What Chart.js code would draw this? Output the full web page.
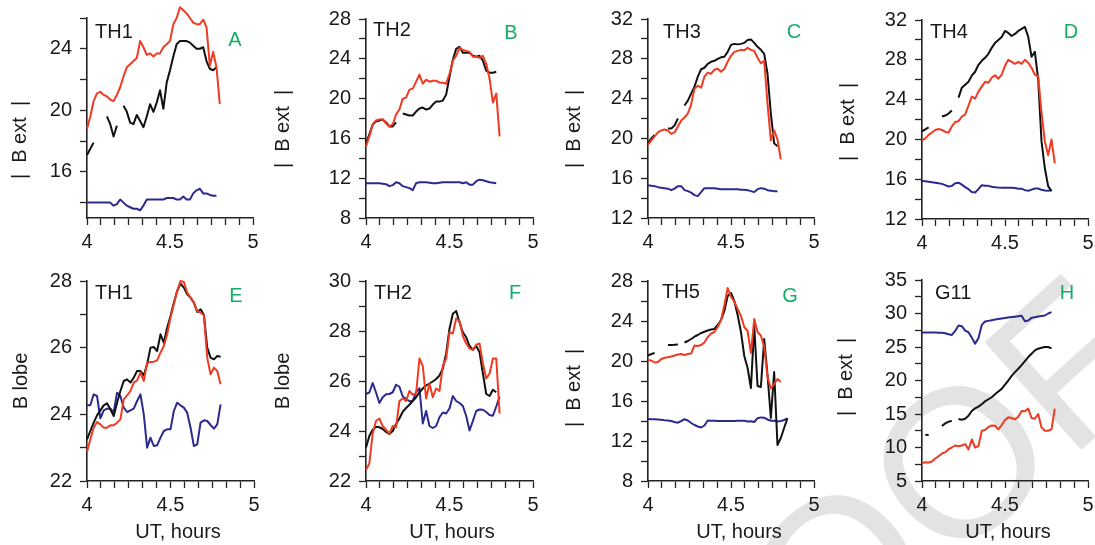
<!DOCTYPE html>
<html>
<head>
<meta charset="utf-8">
<script src="https://cdn.jsdelivr.net/npm/chart.js@4.4.1/dist/chart.umd.min.js"></script>
<style>
  html, body { margin: 0; padding: 0; background: #fff; }
  #wrap { position: relative; width: 1095px; height: 545px; overflow: hidden; }
  #wrap canvas { position: absolute; left: 0; top: 0; }
</style>
</head>
<body>
<div id="wrap"></div>
<script>
// UT hours shared by every panel
const hours = [4.00, 4.02, 4.04, 4.06, 4.08, 4.10, 4.12, 4.14, 4.16, 4.18,
  4.20, 4.22, 4.24, 4.26, 4.28, 4.30, 4.32, 4.34, 4.36, 4.38,
  4.40, 4.42, 4.44, 4.46, 4.48, 4.50, 4.52, 4.54, 4.56, 4.58,
  4.60, 4.62, 4.64, 4.66, 4.68, 4.70, 4.72, 4.74, 4.76, 4.78,
  4.80, 4.82, 4.84];

const xTickLabels = [4, 4.5, 5];
const xMinorPerHour = 12;

// A  TH1 |B ext|
const redA = [18.8, 19.6, 20.6, 21.1, 21.2, 21.0, 20.9, 20.7, 20.6, 21.0, 21.5, 22.2, 22.8, 23.0, 23.2, 23.4, 24.5, 24.1, 23.6, 23.7, 23.5, 23.7, 23.7, 24.1, 24.3, 24.5, 25.6, 26.0, 26.7, 26.5, 26.3, 26.0, 25.7, 25.6, 25.6, 25.9, 25.4, 22.9, 23.8, 22.8, 20.4];
const blackA = [17.1, 17.5, 17.9, null, null, null, 19.6, 19.1, 18.3, 19.0, null, 20.3, 19.9, 19.2, 19.1, 19.7, 19.3, 18.9, 19.6, 20.4, 19.9, 20.5, 21.3, 20.1, 21.8, 22.6, 23.5, 24.3, 24.5, 24.5, 24.5, 24.4, 24.2, 24.0, 24.0, 24.1, 23.2, 22.7, 22.6, 22.8];
const blueA = [14.0, 14.0, 14.0, 14.0, 14.0, 14.0, 14.0, 14.0, 13.8, 13.9, 14.2, 14.0, 13.8, 13.7, 13.6, 13.6, 13.5, 13.8, 14.2, 14.2, 14.2, 14.2, 14.2, 14.2, 14.3, 14.3, 14.3, 14.2, 14.2, 14.4, 14.2, 14.2, 14.6, 14.8, 14.9, 14.6, 14.6, 14.5, 14.45, 14.45];

// B  TH2 |B ext|
const redB = [15.2, 16.2, 17.4, 17.8, 17.9, 17.9, 17.5, 17.2, 17.4, 18.4, 18.9, 20.0, 20.1, 20.9, 21.0, 21.7, 22.4, 21.5, 21.9, 21.7, 21.8, 21.8, 21.6, 21.6, 21.5, 22.5, 23.8, 24.3, 25.1, 24.9, 24.8, 24.7, 24.2, 24.2, 24.1, 24.3, 23.5, 22.0, 19.6, 20.5, 16.2];
const blackB = [15.5, 16.4, 17.4, 17.7, 17.8, 17.9, 17.6, 17.2, 17.2, 17.6, null, 18.5, 18.4, 18.3, 18.3, 18.7, 19.0, 19.1, 18.9, 19.0, 19.4, 19.7, 19.7, 19.8, 20.4, 22.2, 23.9, 25.0, 25.2, 24.6, 24.6, 24.6, 24.3, 24.2, 24.3, 23.8, 22.8, 22.6, 22.6, 22.7];
const blueB = [11.5, 11.5, 11.5, 11.5, 11.5, 11.45, 11.4, 11.2, 11.3, 11.6, 11.5, 11.2, 11.1, 11.0, 10.8, 11.5, 11.6, 11.6, 11.6, 11.55, 11.5, 11.5, 11.55, 11.6, 11.6, 11.6, 11.6, 11.6, 11.6, 11.5, 11.6, 11.35, 11.35, 11.7, 11.85, 11.8, 11.7, 11.6, 11.55, 11.5];

// C  TH3 |B ext|
const redC = [19.35, 19.8, 20.2, 20.6, 20.8, 20.9, 20.8, 20.45, 20.6, 21.2, 21.8, 22.1, 22.5, 23.4, 25.0, 25.3, 25.1, 26.2, 26.6, 26.5, 26.9, 27.0, 26.7, 27.0, 27.7, 28.3, 28.7, 28.8, 28.9, 28.85, 29.1, 28.9, 28.8, 28.1, 27.55, 27.8, 23.5, 19.8, 20.8, 19.9, 17.9];
const blackC = [19.5, 20.0, 20.35, null, null, null, 21.0, 21.0, 21.3, 22.0, null, 23.3, 23.8, 24.5, 25.2, 26.2, 26.95, 27.1, 27.5, 27.7, 27.8, 28.0, 28.15, 28.2, 28.7, 29.4, 29.5, 29.45, 29.5, 29.6, 29.9, 29.95, 29.6, 29.2, 28.9, 28.5, 26.5, 22.5, 19.5, 19.2];
const blueC = [15.3, 15.25, 15.2, 15.1, 15.05, 15.0, 14.95, 14.8, 14.95, 15.2, 15.2, 14.8, 14.7, 14.55, 14.3, 14.2, 14.6, 15.0, 15.0, 15.0, 15.0, 14.95, 14.9, 14.9, 14.9, 14.9, 14.9, 14.9, 14.85, 14.85, 14.8, 14.7, 14.6, 14.9, 15.0, 14.95, 14.8, 14.75, 14.7, 14.7];

// D  TH4 |B ext|
const redD = [19.9, 20.1, 20.45, 20.7, 20.95, 21.05, 20.95, 20.75, 20.7, 21.3, 21.75, 21.83, 22.3, 22.5, 23.4, 24.3, 24.1, 24.8, 25.3, 25.8, 25.7, 26.2, 26.45, 26.1, 26.5, 27.4, 28.0, 27.8, 27.6, 27.8, 27.6, 28.0, 27.7, 27.2, 26.5, 26.35, 22.7, 19.8, 18.4, 20.0, 17.6];
const blackD = [20.8, 21.0, 21.2, null, null, null, 22.3, 22.4, 22.6, 22.9, null, 24.2, 25.2, 25.5, 25.8, 26.4, 26.8, 27.5, 27.9, 28.2, 28.6, 29.2, 29.7, 30.0, 30.3, 30.9, 30.7, 30.4, 30.6, 30.9, 31.1, 31.3, 30.3, 28.3, 28.8, 26.0, 19.8, 17.1, 15.3, 14.8];
const blueD = [15.83, 15.8, 15.75, 15.7, 15.65, 15.6, 15.53, 15.4, 15.27, 15.33, 15.6, 15.65, 15.45, 15.2, 15.0, 14.72, 14.67, 15.0, 15.4, 15.35, 15.33, 15.25, 15.2, 15.17, 15.15, 15.13, 15.13, 15.15, 15.12, 15.05, 15.05, 14.9, 14.83, 14.95, 15.07, 15.07, 14.93, 14.87, 14.85, 14.9];

// E  TH1 B lobe
const redE = [22.87, 23.25, 23.6, 23.77, 23.7, 23.6, 23.6, 23.67, 23.67, 23.75, 23.85, 24.45, 24.57, 24.7, 24.95, 25.02, 25.25, 25.0, 25.55, 25.57, 25.58, 25.62, 25.85, 26.05, 26.4, 26.9, 27.3, 27.7, 28.0, 27.97, 27.65, 27.5, 27.35, 27.1, 27.05, 26.97, 25.7, 25.2, 25.4, 25.3, 24.9];
const blackE = [23.25, 23.5, 23.75, 23.97, 24.12, 24.27, 24.33, 24.15, 23.95, 24.35, 24.7, 25.0, 25.05, 24.95, 25.1, 25.3, 25.3, 25.17, 25.5, 26.0, 26.02, 25.9, 26.4, 26.15, 26.6, 26.95, 27.35, 27.7, 27.92, 27.8, 27.6, 27.5, 27.35, 27.07, 27.15, 26.99, 26.0, 25.7, 25.65, 25.75, 25.73];
const blueE = [24.27, 24.27, 24.6, 24.55, 23.88, 24.12, 24.17, 24.17, 24.07, 24.65, 24.55, 24.2, 24.07, 24.12, 24.17, 24.4, 24.6, 24.0, 23.0, 23.3, 23.05, 23.07, 23.3, 23.5, 23.55, 23.55, 24.1, 24.35, 24.27, 24.2, 24.05, 23.6, 23.05, 23.1, 23.75, 23.82, 23.8, 23.68, 23.57, 23.7, 24.3];

// F  TH2 B lobe
const redF = [22.44, 22.7, 23.9, 24.4, 24.5, 24.2, 24.05, 23.9, 24.2, 24.15, 25.2, 25.3, 25.2, 25.6, 25.45, 25.5, 26.9, 26.6, 25.3, 25.9, 25.35, 25.7, 25.6, 26.6, 26.9, 27.95, 27.9, 28.5, 28.4, 27.8, 27.5, 27.3, 27.25, 27.45, 27.5, 26.7, 26.1, 26.3, 26.9, 26.9, 24.7];
const blackF = [23.34, 23.8, 24.05, 24.17, 24.15, 24.08, 23.96, 23.88, 24.0, 24.28, 24.5, 24.77, 24.92, 25.05, 25.2, 25.35, 25.55, 25.7, 25.82, 25.9, 25.98, 26.08, 26.22, 26.5, 27.1, 28.09, 28.69, 28.8, 28.35, 27.95, 27.75, 27.4, 27.25, 27.4, 27.15, 26.3, 25.48, 25.4, 25.65, 25.55];
const blueF = [25.48, 25.54, 25.92, 25.54, 25.12, 25.35, 25.47, 25.48, 25.55, 25.85, 25.77, 25.38, 25.29, 25.19, 25.21, 25.55, 25.71, 24.3, 24.8, 24.2, 24.12, 24.2, 24.55, 24.74, 24.7, 24.9, 25.4, 25.2, 25.12, 25.0, 24.6, 24.02, 24.4, 24.8, 24.86, 24.85, 24.76, 24.64, 24.61, 24.98, 25.37];

// G  TH5 |B ext|
const redG = [20.1, 20.05, 19.85, 19.9, 20.2, 20.33, 20.38, 20.45, 20.55, 20.65, 20.7, 20.6, 20.7, 20.75, 21.55, 21.5, 21.6, 21.85, 22.4, 22.75, 22.9, 23.4, 24.1, 25.6, 27.3, 26.4, 25.95, 25.2, 24.5, 23.4, 23.0, 20.8, 24.2, 22.9, 22.55, 21.4, 18.4, 17.27, 17.7, 18.2, 17.9];
const blackG = [20.55, 20.7, 20.8, null, null, null, 21.6, 21.6, 21.62, 21.65, null, 21.85, 22.0, 22.2, 22.43, 22.6, 22.8, 22.93, 23.05, 23.15, 23.2, 23.6, 24.1, 25.0, 26.5, 26.8, 26.0, 24.6, 22.9, 20.5, 19.3, 17.3, 23.5, 17.5, 17.4, 22.2, 18.6, 14.3, 18.9, 11.6, 12.3, 13.3, 14.27];
const blueG = [14.2, 14.18, 14.17, 14.15, 14.12, 14.08, 14.05, 14.0, 13.9, 13.83, 14.0, 14.18, 14.05, 13.8, 13.6, 13.45, 13.35, 13.55, 14.05, 14.03, 14.02, 14.0, 14.0, 14.0, 14.0, 14.0, 14.0, 14.02, 14.03, 14.03, 13.95, 13.98, 13.9, 14.28, 14.36, 14.33, 14.15, 14.03, 14.03, 13.95, 14.0, 14.1, 14.27];

// H  G11 |B ext|
const redH = [7.7, 7.8, 7.75, 7.9, 8.35, 8.7, 9.1, 9.3, 9.75, 10.0, 10.3, 10.2, 10.3, 10.5, 9.7, 11.2, 10.0, 10.2, 12.5, 12.6, 13.05, 13.3, 13.25, 12.7, 13.35, 14.1, 14.5, 14.4, 14.2, 14.6, 15.45, 15.4, 15.8, 14.4, 14.3, 15.0, 13.0, 12.5, 12.5, 12.7, 15.8];
const blackH = [null, 11.9, 11.85, null, null, null, 13.2, 13.6, 13.85, 13.97, null, 14.25, 14.15, 14.3, 14.75, 15.45, 15.85, 16.1, 16.45, 16.9, 17.2, 17.5, 17.95, 18.35, 18.75, 19.4, 20.0, 20.7, 21.25, 21.75, 22.3, 22.9, 23.5, 24.0, 24.5, 24.75, 24.9, 25.0, 25.0, 24.8];
const blueH = [27.15, 27.15, 27.15, 27.15, 27.15, 27.13, 27.12, 27.05, 26.9, 26.8, 27.4, 28.2, 28.1, 27.45, 27.2, 26.4, 25.5, 26.3, 28.3, 28.8, 28.9, 29.0, 29.1, 29.18, 29.25, 29.33, 29.4, 29.47, 29.53, 29.6, 29.65, 28.85, 28.95, 29.35, 29.45, 29.55, 29.62, 29.7, 30.0, 30.2];

// y tick labels per panel
const yTicksA = [16, 20, 24];
const yTicksB = [8, 12, 16, 20, 24, 28];
const yTicksC = [12, 16, 20, 24, 28, 32];
const yTicksD = [12, 16, 20, 24, 28, 32];
const yTicksE = [22, 24, 26, 28];
const yTicksF = [22, 24, 26, 28, 30];
const yTicksG = [8, 12, 16, 20, 24, 28];
const yTicksH = [5, 10, 15, 20, 25, 30, 35];

const RED = '#ef3b22';
const BLACK = '#111111';
const BLUE = '#2b2a8e';
const GREEN = '#17ad68';
const AXIS = '#222222';
const FONT = '"Liberation Sans", Arial, Helvetica, sans-serif';

const panels = [
  { name: 'TH1', letter: 'A', title: '|  B ext  |', red: redA, black: blackA, blue: blueA, yMin: 13, yMax: 26, minor: 2, labels: yTicksA,
    box: [87, 253, 18, 218], nameAt: [95, 32], letterAt: [235, 40], titleAt: [20, 140] },
  { name: 'TH2', letter: 'B', title: '|  B ext  |', red: redB, black: blackB, blue: blueB, yMin: 8, yMax: 28, minor: 2, labels: yTicksB,
    box: [366, 533, 19, 218], nameAt: [373, 30], letterAt: [511, 33], titleAt: [283, 129] },
  { name: 'TH3', letter: 'C', title: '|  B ext  |', red: redC, black: blackC, blue: blueC, yMin: 12, yMax: 32, minor: 2, labels: yTicksC,
    box: [648, 814, 19, 218], nameAt: [663, 32], letterAt: [794, 32], titleAt: [574, 129] },
  { name: 'TH4', letter: 'D', title: '|  B ext  |', red: redD, black: blackD, blue: blueD, yMin: 12, yMax: 32, minor: 2, labels: yTicksD,
    box: [922, 1088, 20, 219], nameAt: [930, 32], letterAt: [1071, 32], titleAt: [848, 122] },
  { name: 'TH1', letter: 'E', title: 'B lobe', red: redE, black: blackE, blue: blueE, yMin: 22, yMax: 28, minor: 1, labels: yTicksE,
    box: [87, 254, 281, 481], nameAt: [95, 293], letterAt: [236, 296], titleAt: [21, 381], xTitleAt: [178, 532] },
  { name: 'TH2', letter: 'F', title: 'B lobe', red: redF, black: blackF, blue: blueF, yMin: 22, yMax: 30, minor: 1, labels: yTicksF,
    box: [366, 533, 281, 481], nameAt: [374, 293], letterAt: [515, 293], titleAt: [283, 381], xTitleAt: [452, 532] },
  { name: 'TH5', letter: 'G', title: '|  B ext  |', red: redG, black: blackG, blue: blueG, yMin: 8, yMax: 28, minor: 2, labels: yTicksG,
    box: [648, 814, 281, 481], nameAt: [662, 292], letterAt: [790, 296], titleAt: [574, 388], xTitleAt: [739, 532] },
  { name: 'G11', letter: 'H', title: '|  B ext  |', red: redH, black: blackH, blue: blueH, yMin: 5, yMax: 35, minor: 2.5, labels: yTicksH,
    box: [922, 1088, 280, 481], nameAt: [935, 293], letterAt: [1067, 293], titleAt: [846, 377], xTitleAt: [1008, 532] }
];

const pts = arr => arr.map((v, i) => ({ x: hours[i], y: v }));

const xTicks = [];
for (let i = 0; i <= xMinorPerHour; i++) xTicks.push(4 + i / xMinorPerHour);

// light grey "PROOF" stamp behind the figure
const proofStamp = {
  id: 'proofStamp',
  beforeDraw(chart) {
    const ctx = chart.ctx;
    ctx.save();
    ctx.translate(609, 875);
    ctx.rotate(-42 * Math.PI / 180);
    ctx.font = '210px ' + FONT;
    ctx.fillStyle = '#e3e3e3';
    ctx.textBaseline = 'alphabetic';
    ctx.fillText('PROOF', 0, 0);
    ctx.restore();
  }
};

// panel name, letter and axis titles
const panelText = {
  id: 'panelText',
  afterDraw(chart, args, p) {
    const ctx = chart.ctx;
    ctx.save();
    ctx.textBaseline = 'middle';
    ctx.font = '20px ' + FONT;
    ctx.fillStyle = '#1a1a1a';
    ctx.textAlign = 'left';
    ctx.fillText(p.name, p.nameAt[0], p.nameAt[1]);
    ctx.fillStyle = GREEN;
    ctx.textAlign = 'center';
    ctx.fillText(p.letter, p.letterAt[0], p.letterAt[1]);
    ctx.fillStyle = '#1a1a1a';
    if (p.xTitleAt) ctx.fillText('UT, hours', p.xTitleAt[0], p.xTitleAt[1]);
    ctx.translate(p.titleAt[0], p.titleAt[1]);
    ctx.rotate(-Math.PI / 2);
    ctx.fillText(p.title, 0, 0);
    ctx.restore();
  }
};

const wrap = document.getElementById('wrap');

panels.forEach((p, idx) => {
  const canvas = document.createElement('canvas');
  canvas.width = 1095;
  canvas.height = 545;
  wrap.appendChild(canvas);

  const [L, R, T, B] = p.box;
  const yAxisW = 60, xAxisH = 40;
  const yTicks = [];
  for (let v = Math.ceil(p.yMin / p.minor) * p.minor; v <= p.yMax + 1e-9; v += p.minor) yTicks.push(v);

  new Chart(canvas, {
    type: 'line',
    data: {
      datasets: [
        { data: pts(p.red), borderColor: RED, clip: false },
        { data: pts(p.black), borderColor: BLACK, clip: false },
        { data: pts(p.blue), borderColor: BLUE, clip: false }
      ]
    },
    options: {
      responsive: false,
      animation: false,
      events: [],
      spanGaps: false,
      layout: { padding: { left: L - yAxisW, right: 1095 - R, top: T, bottom: 545 - B - xAxisH } },
      elements: {
        point: { radius: 0 },
        line: { borderWidth: 2, tension: 0, borderJoinStyle: 'round', fill: false }
      },
      plugins: {
        legend: { display: false },
        tooltip: { enabled: false },
        panelText: p
      },
      scales: {
        x: {
          type: 'linear', min: 4, max: 5,
          afterBuildTicks: s => { s.ticks = xTicks.map(v => ({ value: v })); },
          afterFit: s => { s.height = xAxisH; s.paddingLeft = 0; s.paddingRight = 0; },
          ticks: {
            autoSkip: false, maxRotation: 0, padding: 5, color: '#1a1a1a',
            font: { size: 20, family: FONT },
            callback: v => xTickLabels.includes(v) ? String(v) : ''
          },
          grid: { drawOnChartArea: false, drawTicks: true, tickLength: 7, tickColor: AXIS, tickWidth: 1.3 },
          border: { color: AXIS, width: 1.6 }
        },
        y: {
          type: 'linear', min: p.yMin, max: p.yMax,
          afterBuildTicks: s => { s.ticks = yTicks.map(v => ({ value: v })); },
          afterFit: s => { s.width = yAxisW; s.paddingTop = 0; s.paddingBottom = 0; },
          ticks: {
            autoSkip: false, padding: 8, color: '#1a1a1a',
            font: { size: 20, family: FONT },
            callback: v => p.labels.includes(v) ? String(v) : ''
          },
          grid: { drawOnChartArea: false, drawTicks: true, tickLength: 7, tickColor: AXIS, tickWidth: 1.3 },
          border: { color: AXIS, width: 1.6 }
        }
      }
    },
    plugins: idx === 0 ? [proofStamp, panelText] : [panelText]
  });
});
</script>
</body>
</html>
